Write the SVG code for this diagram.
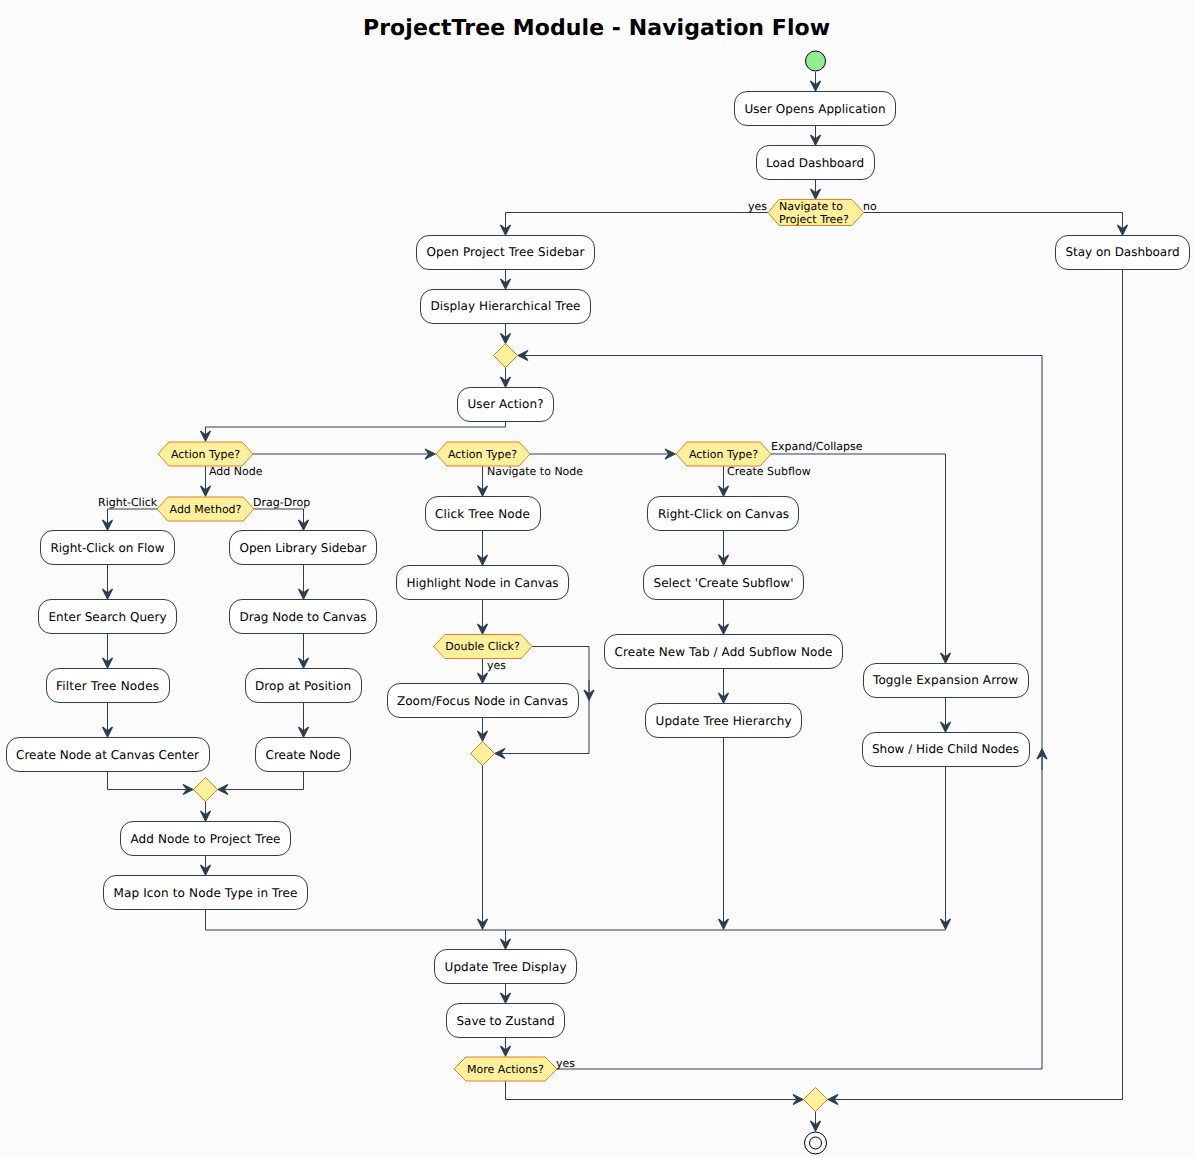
<svg xmlns="http://www.w3.org/2000/svg" width="1194" height="1158" viewBox="0 0 1194 1158">
<style>
text{font-family:"DejaVu Sans",sans-serif;fill:#000;text-rendering:geometricPrecision}
.t{font-size:22px;font-weight:700;text-anchor:middle}
.n rect{fill:#fff;stroke:#2C3E50;stroke-width:1;height:34px}
.n text{font-size:12px;text-anchor:middle}
.d polygon{fill:#FFF09C;stroke:#E67E22;stroke-width:1}
.d text{font-size:11px;text-anchor:middle}
.l{font-size:11px}
.c path{fill:none;stroke:#2C3E50;stroke-width:1}
.a{marker-end:url(#ah)}
</style>
<defs><marker id="ah" markerUnits="userSpaceOnUse" viewBox="-12 -8 14 16" refX="0" refY="0" markerWidth="14" markerHeight="16" orient="auto"><polygon points="0,0 -10,-5 -6,0 -10,5" fill="#2C3E50" stroke="#2C3E50" stroke-width="1.200" stroke-linejoin="miter"/></marker></defs>
<rect width="1194" height="1158" fill="#FBFBFB"/>
<text class="t" x="596.500" y="35" textLength="467">ProjectTree Module - Navigation Flow</text>
<g id="connectors" class="c">
<path class="a" d="M815.5 72V91"/><path class="a" d="M815.5 125V145"/><path class="a" d="M815.5 179V199"/>
<path class="a" d="M768 212.500H505.500V235"/><path class="a" d="M863 212.500H1122.500V235"/>
<path class="a" d="M505.500 269V289"/><path class="a" d="M505.500 323V343.500"/><path class="a" d="M505.500 367V387"/>
<path class="a" d="M505.500 421V427H205.500V441"/>
<path class="a" d="M253 454H435"/><path class="a" d="M530 454H675"/><path class="a" d="M771 454H945.500V663"/>
<path class="a" d="M205.500 466V496"/><path class="a" d="M157 509H107.500V530"/><path class="a" d="M254 509H303.500V530"/>
<path class="a" d="M107.500 564V599"/><path class="a" d="M107.500 633V668"/><path class="a" d="M107.500 702V737"/>
<path class="a" d="M303.500 564V599"/><path class="a" d="M303.500 633V668"/><path class="a" d="M303.500 702V737"/>
<path class="a" d="M107.500 771V789.500H193"/><path class="a" d="M303.500 771V789.500H218"/>
<path class="a" d="M205.500 801V821"/><path class="a" d="M205.500 855V875"/><path d="M205.500 909V930H945.500"/>
<path class="a" d="M482.500 466V496"/><path class="a" d="M482.500 530V565"/><path class="a" d="M482.500 599V634"/><path class="a" d="M482.500 659V683"/><path class="a" d="M482.500 717V741"/>
<path d="M532 646.500H589V753.500"/><path class="a" d="M589 680V700"/><path class="a" d="M589 753.500H495"/>
<path class="a" d="M482.500 765V929"/>
<path class="a" d="M723.500 466V496"/><path class="a" d="M723.500 530V565"/><path class="a" d="M723.500 599V634"/><path class="a" d="M723.500 668V703"/><path class="a" d="M723.500 737V929"/>
<path class="a" d="M945.500 697V732"/><path class="a" d="M945.500 766V929"/>
<path class="a" d="M505.500 930V949"/><path class="a" d="M505.500 983V1003"/><path class="a" d="M505.500 1037V1056"/>
<path class="a" d="M557 1069H1042V355.500H518"/><path class="a" d="M1042 770V749"/>
<path class="a" d="M505.500 1081V1099.500H803"/><path class="a" d="M1122.500 269V1099.500H828"/><path class="a" d="M815.500 1111V1131"/>
</g>
<g id="start"><circle cx="815.5" cy="61" r="10" fill="#90EE90" stroke="#000"/></g>
<g id="end"><circle cx="815.5" cy="1143" r="11" fill="none" stroke="#000"/><circle cx="815.5" cy="1143" r="6" fill="none" stroke="#000"/></g>
<g id="n1" class="n"><rect x="734.500" y="91.500" width="161" height="34" rx="12.500"/><text x="815" y="113" textLength="141">User Opens Application</text></g>
<g id="n2" class="n"><rect x="756.500" y="145.500" width="118" height="34" rx="12.500"/><text x="815" y="167" textLength="98">Load Dashboard</text></g>
<g id="d1" class="d"><polygon points="779,199.500 852,199.500 863.500,212.500 852,225.500 779,225.500 768,212.500"/><text x="779" y="210" style="text-anchor:start">Navigate to</text><text x="779" y="223" style="text-anchor:start">Project Tree?</text></g>
<text class="l" x="748" y="210">yes</text><text class="l" x="863" y="210">no</text>
<g id="n3" class="n"><rect x="416.500" y="235.500" width="178" height="34" rx="12.500"/><text x="505.500" y="256" textLength="158">Open Project Tree Sidebar</text></g>
<g id="n4" class="n"><rect x="1055.500" y="235.500" width="134" height="34" rx="12.500"/><text x="1122.500" y="256" textLength="114">Stay on Dashboard</text></g>
<g id="n5" class="n"><rect x="420.500" y="289.500" width="170" height="34" rx="12.500"/><text x="505.500" y="310" textLength="150">Display Hierarchical Tree</text></g>
<g id="m1" class="d"><polygon points="505.500,343.500 517.500,355.500 505.500,367.500 493.500,355.500"/></g>
<g id="n6" class="n"><rect x="457.500" y="387.500" width="96" height="34" rx="12.500"/><text x="505.500" y="408" textLength="76">User Action?</text></g>
<g id="d2" class="d"><polygon points="169,442 242,442 253,454 242,466 169,466 158,454"/><text x="205.500" y="457.500">Action Type?</text></g>
<g id="d3" class="d"><polygon points="447,442 519,442 530,454 519,466 447,466 436,454"/><text x="482.500" y="457.500">Action Type?</text></g>
<g id="d4" class="d"><polygon points="687,442 760,442 771,454 760,466 687,466 676,454"/><text x="723.500" y="457.500">Action Type?</text></g>
<text class="l" x="209" y="475">Add Node</text><text class="l" x="487" y="475">Navigate to Node</text><text class="l" x="727" y="475">Create Subflow</text><text class="l" x="771" y="450">Expand/Collapse</text>
<g id="d5" class="d"><polygon points="168,497 243,497 254,509 243,521 168,521 157,509"/><text x="205.500" y="512.500">Add Method?</text></g>
<text class="l" x="98" y="506">Right-Click</text><text class="l" x="253" y="506">Drag-Drop</text>
<g id="n7" class="n"><rect x="40.500" y="530.500" width="134" height="34" rx="12.500"/><text x="107.500" y="552" textLength="114">Right-Click on Flow</text></g>
<g id="n8" class="n"><rect x="38.500" y="599.500" width="138" height="34" rx="12.500"/><text x="107.500" y="621" textLength="118">Enter Search Query</text></g>
<g id="n9" class="n"><rect x="46.500" y="668.500" width="123" height="34" rx="12.500"/><text x="107.500" y="690" textLength="103">Filter Tree Nodes</text></g>
<g id="n10" class="n"><rect x="6.500" y="737.500" width="203" height="34" rx="12.500"/><text x="107.500" y="759" textLength="183">Create Node at Canvas Center</text></g>
<g id="n11" class="n"><rect x="229.500" y="530.500" width="147" height="34" rx="12.500"/><text x="303" y="552" textLength="127">Open Library Sidebar</text></g>
<g id="n12" class="n"><rect x="229.500" y="599.500" width="147" height="34" rx="12.500"/><text x="303" y="621" textLength="127">Drag Node to Canvas</text></g>
<g id="n13" class="n"><rect x="245.500" y="668.500" width="116" height="34" rx="12.500"/><text x="303" y="690" textLength="96">Drop at Position</text></g>
<g id="n14" class="n"><rect x="255.500" y="737.500" width="95" height="34" rx="12.500"/><text x="303" y="759" textLength="75">Create Node</text></g>
<g id="m2" class="d"><polygon points="205.500,777.500 217.500,789.500 205.500,801.500 193.500,789.500"/></g>
<g id="n15" class="n"><rect x="120.500" y="821.500" width="170" height="34" rx="12.500"/><text x="205.500" y="843" textLength="150">Add Node to Project Tree</text></g>
<g id="n16" class="n"><rect x="103.500" y="875.500" width="204" height="34" rx="12.500"/><text x="205.500" y="897" textLength="184">Map Icon to Node Type in Tree</text></g>
<g id="n17" class="n"><rect x="425.500" y="496.500" width="115" height="34" rx="12.500"/><text x="482.500" y="518" textLength="95">Click Tree Node</text></g>
<g id="n18" class="n"><rect x="396.500" y="565.500" width="172" height="34" rx="12.500"/><text x="482.500" y="587" textLength="152">Highlight Node in Canvas</text></g>
<g id="d6" class="d"><polygon points="445,634.500 521,634.500 532,646.500 521,658.500 445,658.500 433.500,646.500"/><text x="482.500" y="650">Double Click?</text></g>
<text class="l" x="487" y="669">yes</text>
<g id="n19" class="n"><rect x="387.500" y="683.500" width="191" height="34" rx="12.500"/><text x="482.500" y="705" textLength="171">Zoom/Focus Node in Canvas</text></g>
<g id="m3" class="d"><polygon points="482.500,741.500 494.500,753.500 482.500,765.500 470.500,753.500"/></g>
<g id="n20" class="n"><rect x="647.500" y="496.500" width="151" height="34" rx="12.500"/><text x="723.500" y="518" textLength="131">Right-Click on Canvas</text></g>
<g id="n21" class="n"><rect x="643.500" y="565.500" width="160" height="34" rx="12.500"/><text x="723.500" y="587" textLength="140">Select 'Create Subflow'</text></g>
<g id="n22" class="n"><rect x="604.500" y="634.500" width="238" height="34" rx="12.500"/><text x="723.500" y="656" textLength="218">Create New Tab / Add Subflow Node</text></g>
<g id="n23" class="n"><rect x="645.500" y="703.500" width="156" height="34" rx="12.500"/><text x="723.500" y="725" textLength="136">Update Tree Hierarchy</text></g>
<g id="n24" class="n"><rect x="863.500" y="663.500" width="165" height="34" rx="12.500"/><text x="945.500" y="684" textLength="145">Toggle Expansion Arrow</text></g>
<g id="n25" class="n"><rect x="862.500" y="732.500" width="167" height="34" rx="12.500"/><text x="945.500" y="753" textLength="147">Show / Hide Child Nodes</text></g>
<g id="n26" class="n"><rect x="434.500" y="949.500" width="142" height="34" rx="12.500"/><text x="505.500" y="971" textLength="122">Update Tree Display</text></g>
<g id="n27" class="n"><rect x="446.500" y="1003.500" width="118" height="34" rx="12.500"/><text x="505.500" y="1025" textLength="98">Save to Zustand</text></g>
<g id="d7" class="d"><polygon points="466,1057 545,1057 557,1069 545,1081 466,1081 454,1069"/><text x="505.500" y="1073">More Actions?</text></g>
<text class="l" x="556" y="1067">yes</text>
<g id="m4" class="d"><polygon points="815.500,1087.500 827.500,1099.500 815.500,1111.500 803.500,1099.500"/></g>
</svg>
